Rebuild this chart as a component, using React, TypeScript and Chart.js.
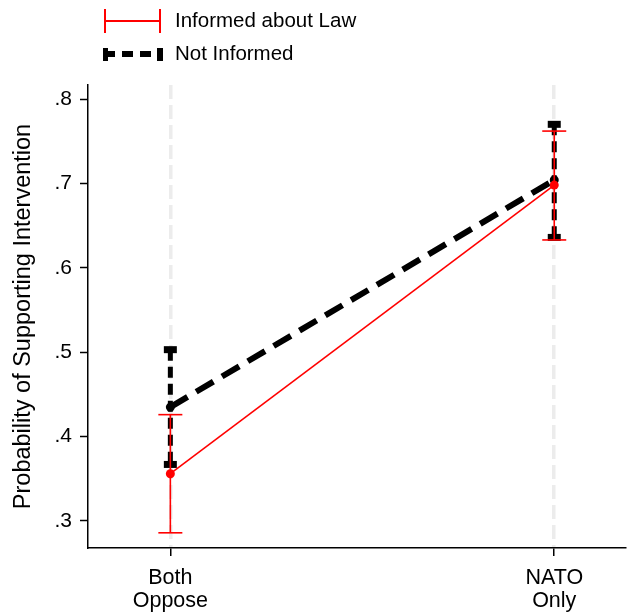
import React, { useEffect, useRef } from "react";
import { Chart, registerables } from "chart.js";

Chart.register(...registerables);

// Category positions on the x axis and their two-line labels
const categoryPositions = [0, 1];
const categoryLabels = [["Both", "Oppose"], ["NATO", "Only"]];

// Informed about Law: predicted probability with 95% interval
const informedMean = [0.356, 0.698];
const informedLow = [0.286, 0.633];
const informedHigh = [0.426, 0.762];

// Not Informed: predicted probability with 95% interval
const notInformedMean = [0.435, 0.704];
const notInformedLow = [0.367, 0.636];
const notInformedHigh = [0.503, 0.77];

const yTicks = [0.3, 0.4, 0.5, 0.6, 0.7, 0.8];

const FONT = "'Liberation Sans', Arial, Helvetica, sans-serif";

type BarStyle = {
  color: string;
  width: number;
  dash: number[];
  capWidth: number;
  capThickness: number;
};

// dataset 0 = Informed (drawn on top), dataset 1 = Not Informed
const barStyles: BarStyle[] = [
  { color: "#ff0000", width: 1.6, dash: [], capWidth: 24, capThickness: 1.6 },
  { color: "#000000", width: 5, dash: [11, 6], capWidth: 13, capThickness: 7 },
];

const lows = [informedLow, notInformedLow];
const highs = [informedHigh, notInformedHigh];

const errorBarPlugin = {
  id: "errorBars",
  beforeDatasetDraw(chart: any, args: any) {
    const i = args.index;
    const st = barStyles[i];
    const { ctx, scales } = chart;
    const xs = scales.x;
    const ys = scales.y;
    ctx.save();
    categoryPositions.forEach((cx, k) => {
      const px = xs.getPixelForValue(cx);
      const top = ys.getPixelForValue(highs[i][k]);
      const bot = ys.getPixelForValue(lows[i][k]);
      ctx.strokeStyle = st.color;
      ctx.lineWidth = st.width;
      ctx.setLineDash(st.dash);
      ctx.beginPath();
      ctx.moveTo(px, top);
      ctx.lineTo(px, bot);
      ctx.stroke();
      ctx.setLineDash([]);
      ctx.lineWidth = st.capThickness;
      [top, bot].forEach((py) => {
        ctx.beginPath();
        ctx.moveTo(px - st.capWidth / 2, py);
        ctx.lineTo(px + st.capWidth / 2, py);
        ctx.stroke();
      });
    });
    ctx.restore();
  },
};

const legendPlugin = {
  id: "topLegend",
  afterDraw(chart: any) {
    const { ctx } = chart;
    ctx.save();
    // red horizontal error-bar sample
    ctx.strokeStyle = "#ff0000";
    ctx.lineWidth = 2;
    ctx.beginPath();
    ctx.moveTo(105, 21);
    ctx.lineTo(160, 21);
    ctx.moveTo(105, 9);
    ctx.lineTo(105, 33);
    ctx.moveTo(160, 9);
    ctx.lineTo(160, 33);
    ctx.stroke();
    // black dashed sample with thick caps
    ctx.strokeStyle = "#000000";
    ctx.fillStyle = "#000000";
    ctx.lineWidth = 6;
    ctx.setLineDash([11, 7]);
    ctx.beginPath();
    ctx.moveTo(104, 54);
    ctx.lineTo(162, 54);
    ctx.stroke();
    ctx.setLineDash([]);
    ctx.fillRect(103, 48, 5, 13);
    ctx.fillRect(157, 48, 6, 13);
    // labels
    ctx.fillStyle = "#000000";
    ctx.font = `20.5px ${FONT}`;
    ctx.textBaseline = "middle";
    ctx.textAlign = "left";
    ctx.fillText("Informed about Law", 175, 21);
    ctx.fillText("Not Informed", 175, 54);
    ctx.restore();
  },
};

export default function App() {
  const ref = useRef<HTMLCanvasElement | null>(null);

  useEffect(() => {
    if (!ref.current) return;
    const chart = new Chart(ref.current, {
      type: "line",
      data: {
        datasets: [
          {
            label: "Informed about Law",
            data: categoryPositions.map((x, k) => ({ x, y: informedMean[k] })),
            borderColor: "#ff0000",
            backgroundColor: "#ff0000",
            borderWidth: 1.6,
            pointRadius: 4.5,
            pointBorderWidth: 0,
            tension: 0,
          },
          {
            label: "Not Informed",
            data: categoryPositions.map((x, k) => ({ x, y: notInformedMean[k] })),
            borderColor: "#000000",
            backgroundColor: "#000000",
            borderWidth: 6,
            borderDash: [20, 10],
            pointRadius: 4.5,
            pointBorderWidth: 0,
            tension: 0,
          },
        ],
      },
      options: {
        animation: false,
        responsive: false,
        maintainAspectRatio: false,
        layout: { padding: { top: 85, right: 0, left: 0, bottom: 0 } },
        plugins: {
          legend: { display: false },
          tooltip: { enabled: false },
        },
        scales: {
          x: {
            type: "linear",
            min: -0.2145,
            max: 1.183,
            afterBuildTicks: (scale: any) => {
              scale.ticks = categoryPositions.map((v) => ({ value: v }));
            },
            afterFit: (scale: any) => {
              scale.height = 66;
            },
            ticks: {
              callback: (v: any) => categoryLabels[categoryPositions.indexOf(v)],
              color: "#000000",
              font: { family: FONT, size: 21.5, lineHeight: 1.05 },
              padding: 11,
              maxRotation: 0,
              autoSkip: false,
            },
            grid: {
              display: true,
              drawOnChartArea: true,
              color: "#ececec",
              lineWidth: 3.5,
              drawTicks: true,
              tickLength: 8,
              tickColor: "#000000",
              tickWidth: 1.5,
            },
            border: { display: true, color: "#000000", width: 1.5, dash: [14, 6] },
          },
          y: {
            type: "linear",
            min: 0.268,
            max: 0.8166,
            afterBuildTicks: (scale: any) => {
              scale.ticks = yTicks.map((v) => ({ value: v }));
            },
            afterFit: (scale: any) => {
              scale.width = 88;
            },
            ticks: {
              callback: (v: any) => Number(v).toFixed(1).replace(/^0/, ""),
              color: "#000000",
              font: { family: FONT, size: 21 },
              padding: 8,
            },
            grid: {
              display: true,
              drawOnChartArea: false,
              drawTicks: true,
              tickLength: 8,
              tickColor: "#000000",
              tickWidth: 1.5,
            },
            border: { display: true, color: "#000000", width: 1.5 },
            title: {
              display: true,
              text: "Probability of Supporting Intervention",
              color: "#000000",
              font: { family: FONT, size: 23.5 },
              padding: { top: 9, bottom: 0 },
            },
          },
        },
      },
      plugins: [errorBarPlugin, legendPlugin],
    });
    return () => chart.destroy();
  }, []);

  return (
    <div style={{ position: "fixed", left: 0, top: 0, width: 629, height: 614, background: "#ffffff" }}>
      <canvas ref={ref} width={629} height={614} style={{ display: "block" }} />
    </div>
  );
}
